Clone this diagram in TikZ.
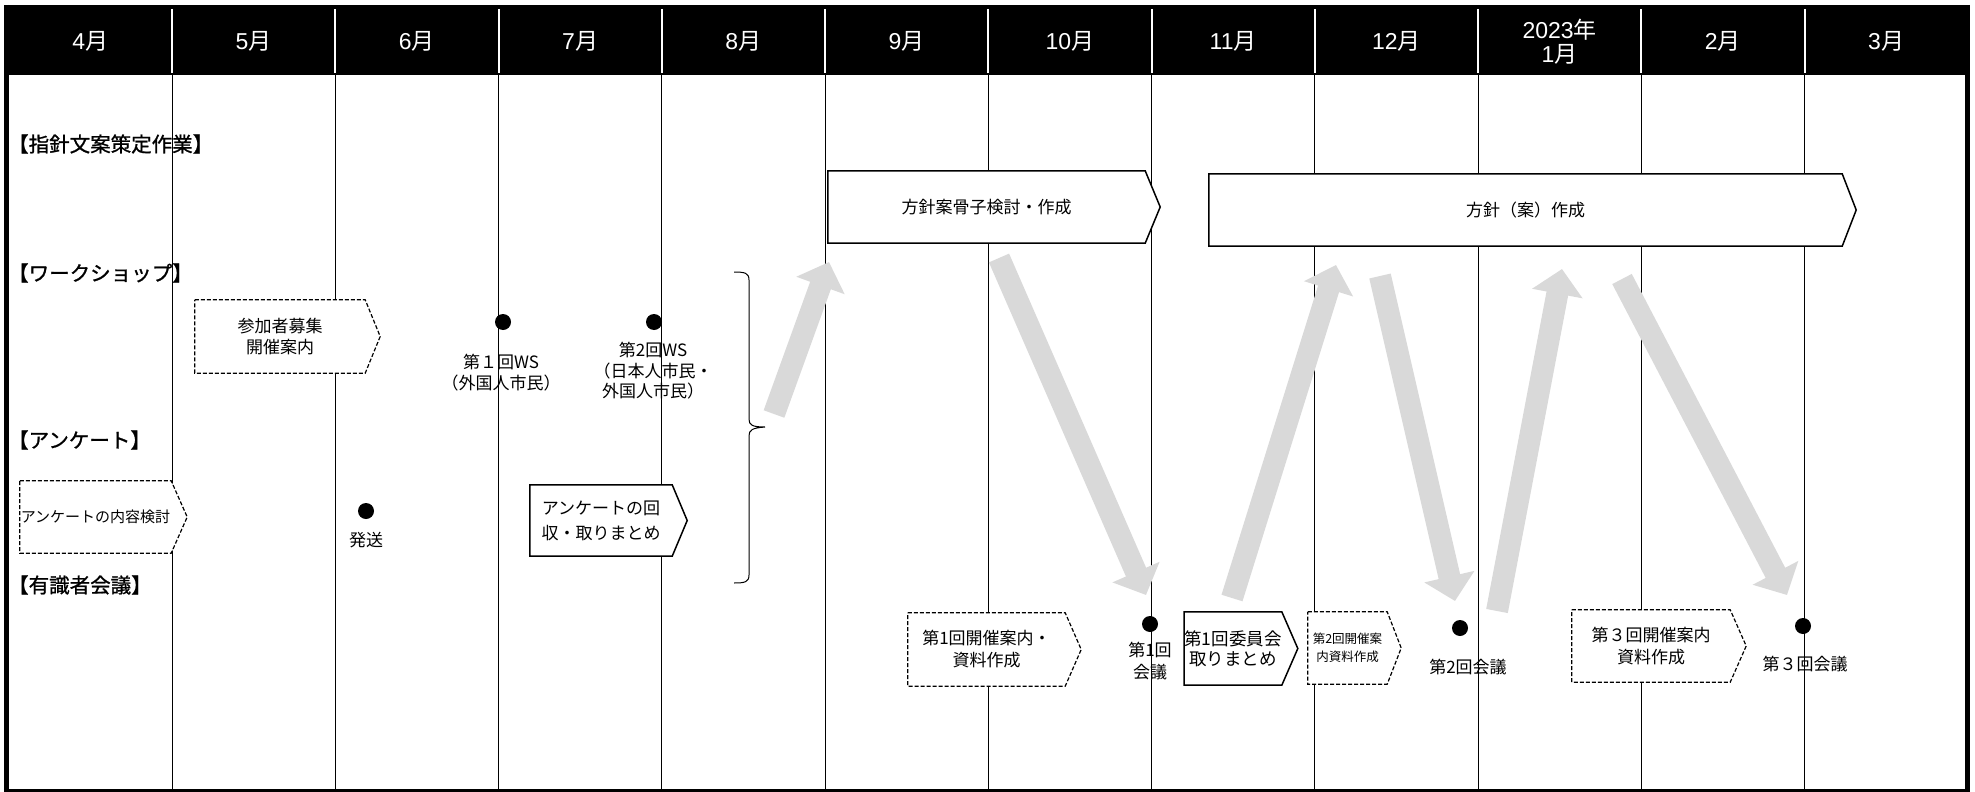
\documentclass[tikz,border=0pt]{standalone}
\usepackage{fontspec}
\setmainfont{Noto Sans CJK JP}
\newfontfamily\hdrlatin{Liberation Sans}
\newfontfamily\sectfont{Noto Sans CJK JP}[FakeBold=1]
\newcommand{\mnum}[1]{{\hdrlatin #1}}
\usetikzlibrary{arrows.meta}
\pgfdeclarelayer{back}
\pgfdeclarelayer{mid}
\pgfsetlayers{back,mid,main}
\definecolor{arrowgray}{HTML}{D9D9D9}
\newcommand{\pentabox}[3]{%
  \begin{pgfonlayer}{mid}
  \draw[#2] (#1.north west) -- (#1.north east) -- ([xshift=#3]#1.east) -- (#1.south east) -- (#1.south west) -- cycle;
  \end{pgfonlayer}}
\tikzset{
  boxtext/.style={inner sep=0pt, align=center, font=\fontsize{17}{21}\selectfont},
  solidbox/.style={draw=black, line width=1.5pt, fill=white},
  dashbox/.style={draw=black, line width=1.2pt, fill=white, dash pattern=on 4pt off 2pt},
  monthlab/.style={text=white, inner sep=0pt, align=center, font=\fontsize{23}{23.5}\selectfont},
  sectlabel/.style={anchor=west, inner sep=0pt, font=\sectfont\fontsize{20.5}{22}\selectfont},
  evtext/.style={align=center, inner sep=0pt, font=\fontsize{17}{21}\selectfont},
  evdot/.style={circle, fill=black, inner sep=0pt, minimum size=16pt},
  bigarrow/.style={line width=22pt, draw=arrowgray, -{Triangle[length=25pt,width=50pt]}},
  gridline/.style={line width=1pt, black},
}
\begin{document}
\begin{tikzpicture}[x=1pt, y=-1pt]
\useasboundingbox (0,0) rectangle (1975,792);
% background: header and grid
\begin{pgfonlayer}{back}
  \fill[black] (4,5) rectangle (1970,75);
  \foreach \i in {1,...,11} {
    \draw[white, line width=2pt] ({8.75+163.25*\i},9) -- ({8.75+163.25*\i},73);
    \draw[gridline] ({8.75+163.25*\i},75) -- ({8.75+163.25*\i},790);
  }
  \draw[line width=5pt] (6.5,5) -- (6.5,791);
  \draw[line width=5pt] (1967.5,5) -- (1967.5,791);
  \draw[line width=3pt] (4,790) -- (1970,790);
\end{pgfonlayer}
% month labels
\foreach \m [count=\i from 0] in {\mnum{4}月,\mnum{5}月,\mnum{6}月,\mnum{7}月,\mnum{8}月,\mnum{9}月,\mnum{10}月,\mnum{11}月,\mnum{12}月,{\mnum{2023}年\\\mnum{1}月},\mnum{2}月,\mnum{3}月} {
  \node[monthlab] (mon\i) at ({8.75+163.25*\i+81.6},41.5) {\m};
}
% section labels
\node[sectlabel] (s1) at (8,144) {【指針文案策定作業】};
\node[sectlabel] (s2) at (8,273) {【ワークショップ】};
\node[sectlabel] (s3) at (8,440) {【アンケート】};
\node[sectlabel] (s4) at (8,585) {【有識者会議】};
% policy boxes
\node[boxtext, minimum width=317pt, minimum height=72pt] (b1) at (986.5,207) {方針案骨子検討・作成};
\pentabox{b1}{solidbox}{15pt}
\node[boxtext, minimum width=633pt, minimum height=72pt] (b2) at (1525.5,210) {方針（案）作成};
\pentabox{b2}{solidbox}{14pt}
% workshop
\node[boxtext, minimum width=170pt, minimum height=73pt] (ws0) at (280,336.5) {参加者募集\\開催案内};
\pentabox{ws0}{dashbox}{15pt}
\node[evdot] (d1) at (503,322) {};
\node[evtext] (t1) at (501,372.5) {第１回WS\\（外国人市民）};
\node[evdot] (d2) at (654,322) {};
\node[evtext, font=\fontsize{17}{20.5}\selectfont] (t2) at (653,371) {第2回WS\\（日本人市民・\\外国人市民）};
% questionnaire
\node[boxtext, font=\fontsize{15}{18}\selectfont, minimum width=151pt, minimum height=72pt] (q1) at (95.5,517) {アンケートの内容検討};
\pentabox{q1}{dashbox}{16pt}
\node[evdot] (d3) at (366,511) {};
\node[evtext] (t3) at (366,540) {発送};
\node[boxtext, font=\fontsize{17}{25}\selectfont, minimum width=142pt, minimum height=71pt] (q2) at (601,520.5) {アンケートの回\\収・取りまとめ};
\pentabox{q2}{solidbox}{15pt}
% expert meetings
\node[boxtext, font=\fontsize{17}{22}\selectfont, minimum width=157pt, minimum height=73pt] (m1) at (986.5,649.5) {第1回開催案内・\\資料作成};
\pentabox{m1}{dashbox}{16pt}
\node[evdot] (d4) at (1150,624) {};
\node[evtext, font=\fontsize{17}{22}\selectfont] (t4) at (1150,661) {第1回\\会議};
\node[boxtext, font=\fontsize{17.5}{20}\selectfont, minimum width=96pt, minimum height=73pt] (m2) at (1233,648.5) {第1回委員会\\取りまとめ};
\pentabox{m2}{solidbox}{16pt}
\node[boxtext, font=\fontsize{12.5}{18}\selectfont, minimum width=79pt, minimum height=72pt] (m3) at (1347.5,648) {第2回開催案\\内資料作成};
\pentabox{m3}{dashbox}{14pt}
\node[evdot] (d5) at (1460,628) {};
\node[evtext] (t5) at (1468,667) {第2回会議};
\node[boxtext, font=\fontsize{17}{22}\selectfont, minimum width=158pt, minimum height=72pt] (m4) at (1651,646) {第３回開催案内\\資料作成};
\pentabox{m4}{dashbox}{16pt}
\node[evdot] (d6) at (1803,626) {};
\node[evtext] (t6) at (1805,664) {第３回会議};
% brace
\draw[line width=1pt] (734,272) .. controls (745,272) and (749,273) .. (749,280) -- (749,419) .. controls (749,425) and (752,427) .. (765,427) .. controls (752,428) and (749,430) .. (749,436) -- (749,575) .. controls (749,582) and (745,583) .. (734,583);
% big gray arrows
\coordinate (a1s) at (774,414); \coordinate (a1e) at (829,262);
\coordinate (a2s) at (999,258); \coordinate (a2e) at (1146,595);
\coordinate (a3s) at (1232,598); \coordinate (a3e) at (1336,265);
\coordinate (a4s) at (1380,276); \coordinate (a4e) at (1455,601);
\coordinate (a5s) at (1497,611); \coordinate (a5e) at (1562,269);
\coordinate (a6s) at (1622,279); \coordinate (a6e) at (1787,595);
\draw[bigarrow] (a1s) -- (a1e);
\draw[bigarrow] (a2s) -- (a2e);
\draw[bigarrow] (a3s) -- (a3e);
\draw[bigarrow] (a4s) -- (a4e);
\draw[bigarrow] (a5s) -- (a5e);
\draw[bigarrow] (a6s) -- (a6e);
\end{tikzpicture}
\end{document}
